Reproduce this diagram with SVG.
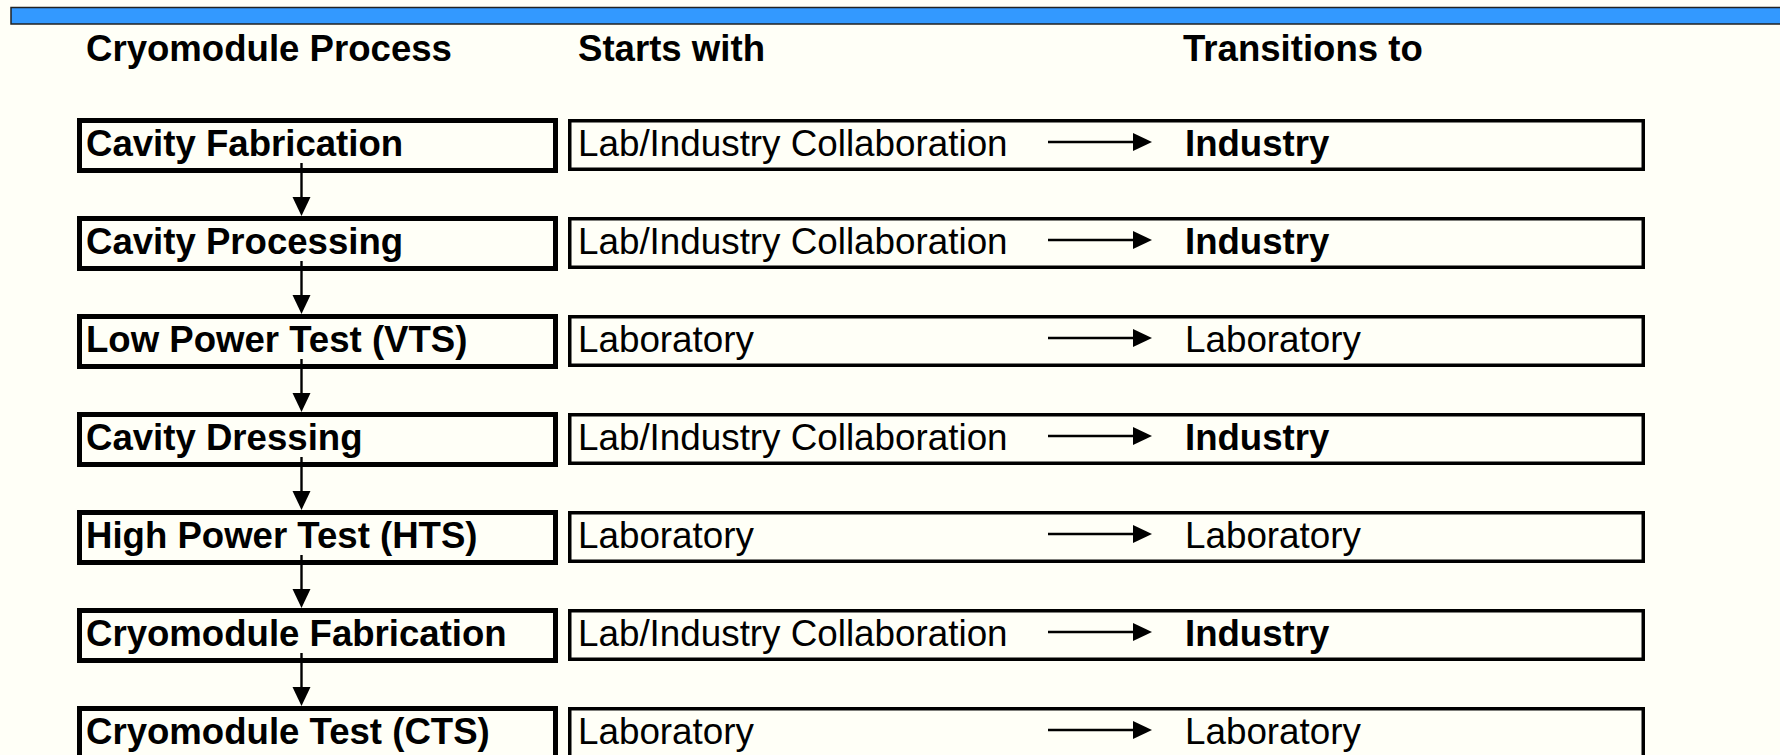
<svg xmlns="http://www.w3.org/2000/svg" width="1780" height="755" viewBox="0 0 1780 755">
<style>
.bg{fill:#FFFFF7}
.lb{fill:#FFFFF7;stroke:#000;stroke-width:5}
.rb{fill:#FFFFF7;stroke:#000;stroke-width:3.5}
.b{font-family:"Liberation Sans",Arial,sans-serif;font-weight:bold;font-size:36.6px;fill:#000}
.r{font-family:"Liberation Sans",Arial,sans-serif;font-size:36.8px;fill:#000}
.ln{stroke:#000;stroke-width:2.4;fill:none}
</style>
<defs>
<marker id="ah" markerUnits="userSpaceOnUse" markerWidth="19" markerHeight="19" refX="0" refY="9" orient="auto" viewBox="0 0 19 18">
<path d="M0,0 L19,9 L0,18 Z" fill="#000"/>
</marker>
</defs>
<rect class="bg" x="0" y="0" width="1780" height="755"/>
<rect id="topbar" x="11" y="7.5" width="1780" height="16.5" fill="#3399FF" stroke="#222" stroke-width="1.5"/>
<g id="headers">
<text class="b" x="86" y="61">Cryomodule Process</text>
<text class="b" x="578" y="61">Starts with</text>
<text class="b" x="1183" y="61">Transitions to</text>
</g>
<g id="row1">
<rect class="lb" x="79.5" y="120.5" width="476" height="50"/>
<text class="b" x="86" y="156">Cavity Fabrication</text>
<rect class="rb" x="569.75" y="120.75" width="1073.5" height="48.5"/>
<text class="r" x="578" y="156">Lab/Industry Collaboration</text>
<text class="b" x="1185" y="156">Industry</text>
</g>
<g id="row2">
<rect class="lb" x="79.5" y="218.5" width="476" height="50"/>
<text class="b" x="86" y="254">Cavity Processing</text>
<rect class="rb" x="569.75" y="218.75" width="1073.5" height="48.5"/>
<text class="r" x="578" y="254">Lab/Industry Collaboration</text>
<text class="b" x="1185" y="254">Industry</text>
</g>
<g id="row3">
<rect class="lb" x="79.5" y="316.5" width="476" height="50"/>
<text class="b" x="86" y="352">Low Power Test (VTS)</text>
<rect class="rb" x="569.75" y="316.75" width="1073.5" height="48.5"/>
<text class="r" x="578" y="352">Laboratory</text>
<text class="r" x="1185" y="352">Laboratory</text>
</g>
<g id="row4">
<rect class="lb" x="79.5" y="414.5" width="476" height="50"/>
<text class="b" x="86" y="450">Cavity Dressing</text>
<rect class="rb" x="569.75" y="414.75" width="1073.5" height="48.5"/>
<text class="r" x="578" y="450">Lab/Industry Collaboration</text>
<text class="b" x="1185" y="450">Industry</text>
</g>
<g id="row5">
<rect class="lb" x="79.5" y="512.5" width="476" height="50"/>
<text class="b" x="86" y="548">High Power Test (HTS)</text>
<rect class="rb" x="569.75" y="512.75" width="1073.5" height="48.5"/>
<text class="r" x="578" y="548">Laboratory</text>
<text class="r" x="1185" y="548">Laboratory</text>
</g>
<g id="row6">
<rect class="lb" x="79.5" y="610.5" width="476" height="50"/>
<text class="b" x="86" y="646">Cryomodule Fabrication</text>
<rect class="rb" x="569.75" y="610.75" width="1073.5" height="48.5"/>
<text class="r" x="578" y="646">Lab/Industry Collaboration</text>
<text class="b" x="1185" y="646">Industry</text>
</g>
<g id="row7">
<rect class="lb" x="79.5" y="708.5" width="476" height="50"/>
<text class="b" x="86" y="744">Cryomodule Test (CTS)</text>
<rect class="rb" x="569.75" y="708.75" width="1073.5" height="48.5"/>
<text class="r" x="578" y="744">Laboratory</text>
<text class="r" x="1185" y="744">Laboratory</text>
</g>
<g id="connectors">
<line class="ln" x1="301.5" y1="163" x2="301.5" y2="197" marker-end="url(#ah)"/>
<line class="ln" x1="301.5" y1="261" x2="301.5" y2="295" marker-end="url(#ah)"/>
<line class="ln" x1="301.5" y1="359" x2="301.5" y2="393" marker-end="url(#ah)"/>
<line class="ln" x1="301.5" y1="457" x2="301.5" y2="491" marker-end="url(#ah)"/>
<line class="ln" x1="301.5" y1="555" x2="301.5" y2="589" marker-end="url(#ah)"/>
<line class="ln" x1="301.5" y1="653" x2="301.5" y2="687" marker-end="url(#ah)"/>
<line class="ln" x1="1048" y1="142" x2="1133" y2="142" marker-end="url(#ah)"/>
<line class="ln" x1="1048" y1="240" x2="1133" y2="240" marker-end="url(#ah)"/>
<line class="ln" x1="1048" y1="338" x2="1133" y2="338" marker-end="url(#ah)"/>
<line class="ln" x1="1048" y1="436" x2="1133" y2="436" marker-end="url(#ah)"/>
<line class="ln" x1="1048" y1="534" x2="1133" y2="534" marker-end="url(#ah)"/>
<line class="ln" x1="1048" y1="632" x2="1133" y2="632" marker-end="url(#ah)"/>
<line class="ln" x1="1048" y1="730" x2="1133" y2="730" marker-end="url(#ah)"/>
</g>
</svg>
